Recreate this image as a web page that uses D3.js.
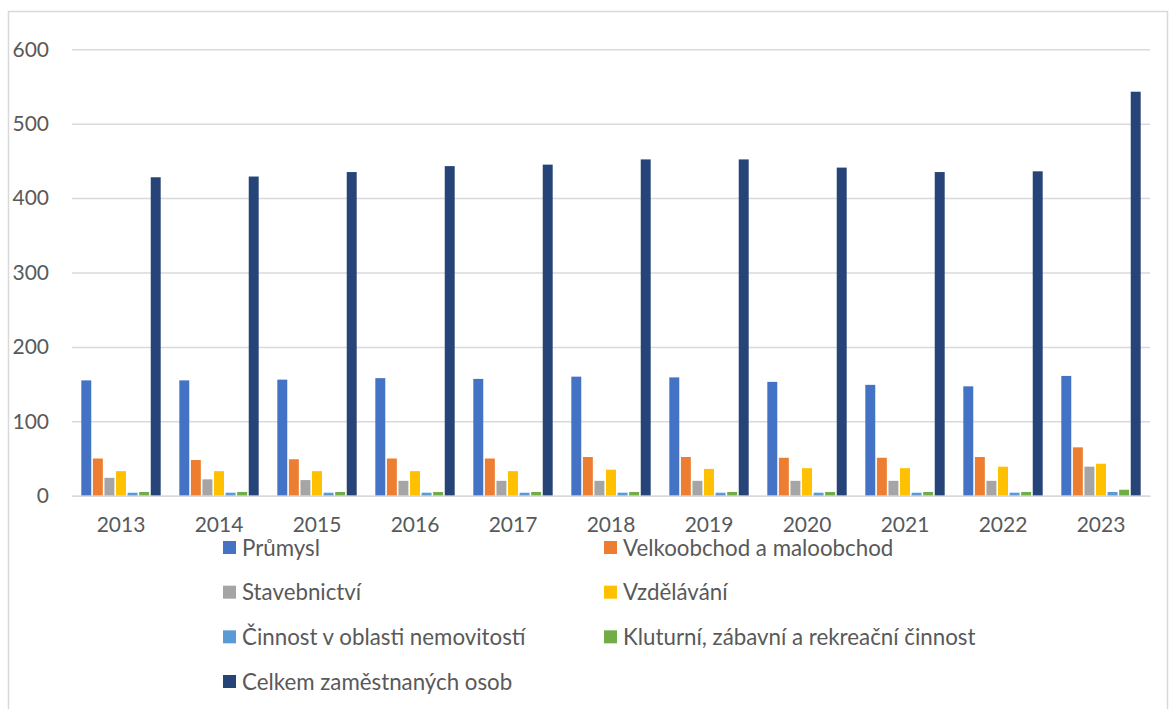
<!DOCTYPE html>
<html>
<head>
<meta charset="utf-8">
<script src="https://cdn.jsdelivr.net/npm/d3@7/dist/d3.min.js"></script>
<style>
  html, body { margin: 0; padding: 0; background: #fff; }
  svg { display: block; }
  text { font-family: "Lato", "Noto Sans", sans-serif; fill: #595959; }
</style>
</head>
<body>
<svg id="chart" width="1170" height="709"></svg>
<script>
const years = ["2013","2014","2015","2016","2017","2018","2019","2020","2021","2022","2023"];
const seriesNames = ["Průmysl","Velkoobchod a maloobchod","Stavebnictví","Vzdělávání","Činnost v oblasti nemovitostí","Kluturní, zábavní a rekreační činnost","Celkem zaměstnaných osob"];
const prumysl    = [155,155,156,158,157,160,159,153,149,147,161];
const obchod     = [50,48,49,50,50,52,52,51,51,52,65];
const stavebnictvi = [24,22,21,20,20,20,20,20,20,20,39];
const vzdelavani = [33,33,33,33,33,35,36,37,37,39,43];
const nemovitosti = [4,4,4,4,4,4,4,4,4,4,5];
const kultura    = [5,5,5,5,5,5,5,5,5,5,8];
const celkem     = [428,429,435,443,445,452,452,441,435,436,543];
const yTicks = [0,100,200,300,400,500,600];
const colors = ["#4472C4","#ED7D31","#A5A5A5","#FFC000","#5B9BD5","#70AD47","#264478"];

const seriesValues = [prumysl, obchod, stavebnictvi, vzdelavani, nemovitosti, kultura, celkem];

const svg = d3.select("#chart");

// chart frame
svg.append("rect")
  .attr("x", 8.5).attr("y", 11.5)
  .attr("width", 1159).attr("height", 720)
  .attr("fill", "none").attr("stroke", "#d9d9d9").attr("stroke-width", 1.5);

const x0 = d3.scaleBand().domain(years).range([72, 1150]).paddingInner(0.19).paddingOuter(0.095);
const x1 = d3.scaleBand().domain(d3.range(seriesNames.length)).range([0, x0.bandwidth()]).paddingInner(0.14);
const y = d3.scaleLinear().domain([0, 600]).range([495.7, 49.3]);

// gridlines
const yAxis = d3.axisLeft(y).tickValues(yTicks).tickSize(-(1150 - 72)).tickPadding(23);
const gy = svg.append("g").attr("transform", "translate(72,0)").call(yAxis);
gy.select(".domain").remove();
gy.selectAll(".tick line").attr("stroke", "#d9d9d9").attr("stroke-width", 1.5);
gy.selectAll(".tick text").attr("font-size", 21).attr("fill", "#595959")
  .style("font-family", "Lato, 'Noto Sans', sans-serif");

// bars
const groups = svg.append("g").selectAll("g")
  .data(years).join("g")
  .attr("transform", d => `translate(${x0(d)},0)`);

groups.selectAll("rect")
  .data((d, i) => seriesValues.map((vals, s) => ({ s, v: vals[i] })))
  .join("rect")
  .attr("x", d => x1(d.s))
  .attr("width", x1.bandwidth())
  .attr("y", d => y(d.v))
  .attr("height", d => y(0) - y(d.v))
  .attr("fill", d => colors[d.s]);

// x axis
const xAxis = d3.axisBottom(x0).tickSize(0).tickPadding(21);
const gx = svg.append("g").attr("transform", `translate(0,${y(0)})`).call(xAxis);
gx.select(".domain").attr("stroke", "#d9d9d9").attr("stroke-width", 1.5);
gx.selectAll(".tick text").attr("font-size", 21).attr("fill", "#595959")
  .style("font-family", "Lato, 'Noto Sans', sans-serif");

// legend
const legendCols = [223, 604];
const legendRowY = d3.scaleLinear().domain([0, 3]).range([548, 682]);
const legend = svg.append("g").selectAll("g")
  .data(seriesNames).join("g")
  .attr("transform", (d, i) => `translate(${legendCols[i % 2]},${legendRowY(Math.floor(i / 2))})`);
legend.append("rect")
  .attr("x", 0).attr("y", -7).attr("width", 13).attr("height", 13)
  .attr("fill", (d, i) => colors[i]);
legend.append("text")
  .attr("x", 19).attr("y", 0).attr("dy", "0.35em")
  .attr("font-size", 22.3)
  .text(d => d);
</script>
</body>
</html>
